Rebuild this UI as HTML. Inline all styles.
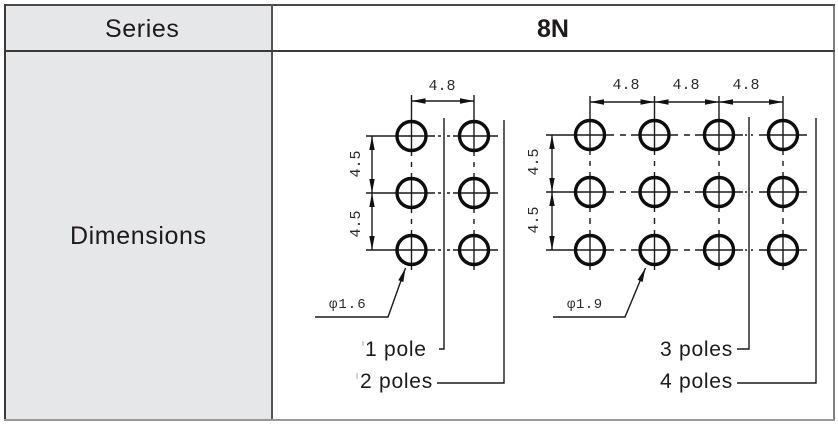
<!DOCTYPE html>
<html><head><meta charset="utf-8"><style>
html,body{margin:0;padding:0;background:#fff;}
svg{display:block;}
</style></head><body>
<svg width="838" height="424" viewBox="0 0 838 424" xmlns="http://www.w3.org/2000/svg">
<defs>
<marker id="a" markerUnits="userSpaceOnUse" markerWidth="15" markerHeight="7" refX="14" refY="3.5" orient="auto-start-reverse"><path d="M0,0.8 L14,3.5 L0,6.2 Z" fill="#111"/></marker>
</defs>
<rect x="0" y="0" width="838" height="424" fill="#fff"/>
<rect x="5" y="5" width="267" height="415" fill="#e6e7e8"/>
<!-- table borders -->
<line x1="4" y1="5" x2="835" y2="5" stroke="#4a4a4a" stroke-width="2"/>
<line x1="5" y1="4" x2="5" y2="421" stroke="#3a3a3a" stroke-width="2"/>
<line x1="272" y1="4" x2="272" y2="420" stroke="#555" stroke-width="2"/>
<line x1="4" y1="51" x2="835" y2="51" stroke="#3a3a3a" stroke-width="2"/>
<line x1="834" y1="4" x2="834" y2="421" stroke="#555" stroke-width="1.5"/>
<line x1="4" y1="420" x2="835" y2="420" stroke="#999" stroke-width="2"/>

<g font-family="Liberation Sans, Arial, sans-serif" fill="#1d1a1b">
<text x="105" y="37" font-size="25" letter-spacing="0.6">Series</text>
<text x="537" y="37" font-size="25" font-weight="bold">8N</text>
<text x="70" y="244" font-size="25" letter-spacing="0.6">Dimensions</text>
<text x="365" y="356" font-size="21" letter-spacing="0.75">1 pole</text>
<text x="360" y="388" font-size="21" letter-spacing="0.75">2 poles</text>
<text x="660" y="356" font-size="21" letter-spacing="0.75">3 poles</text>
<text x="660" y="388" font-size="21" letter-spacing="0.75">4 poles</text>
</g>
<line x1="363" y1="341" x2="363" y2="346" stroke="#aaa" stroke-width="1"/>
<line x1="357" y1="373" x2="357" y2="379" stroke="#aaa" stroke-width="1"/>

<!-- drawing labels -->
<g font-family="Liberation Mono, DejaVu Sans Mono, monospace" font-size="15" fill="#2a2a2a">
<text x="442" y="90" text-anchor="middle">4.8</text>
<text x="626" y="89" text-anchor="middle">4.8</text>
<text x="686" y="89" text-anchor="middle">4.8</text>
<text x="746" y="89" text-anchor="middle">4.8</text>
<text x="360" y="164" text-anchor="middle" transform="rotate(-90 360 164)">4.5</text>
<text x="360" y="224" text-anchor="middle" transform="rotate(-90 360 224)">4.5</text>
<text x="538" y="162" text-anchor="middle" transform="rotate(-90 538 162)">4.5</text>
<text x="538" y="220" text-anchor="middle" transform="rotate(-90 538 220)">4.5</text>
<text x="329" y="308" font-size="14" letter-spacing="1">φ1.6</text>
<text x="567" y="308" font-size="14" letter-spacing="0.5">φ1.9</text>
</g>

<!-- thin lines -->
<g stroke="#1a1a1a" stroke-width="1.4" fill="none">
<!-- LEFT diagram verticals -->
<path d="M411.5,95 V156 M411.5,162 V167 M411.5,173 V213 M411.5,219 V224 M411.5,230 V270"/>
<path d="M474,95 V156 M474,162 V167 M474,173 V213 M474,219 V224 M474,230 V270"/>
<!-- LEFT rows -->
<path d="M366,136 H435 M438,136 H441 M447,136 H450 M453,136 H498"/>
<path d="M366,193 H435 M438,193 H441 M447,193 H450 M453,193 H498"/>
<path d="M366,250 H435 M438,250 H441 M447,250 H450 M453,250 H498"/>
<!-- LEFT leaders -->
<path d="M444,118 V349 H439"/>
<path d="M504,120 V383 H437"/>
<!-- LEFT dims -->
<line x1="411.5" y1="101" x2="474" y2="101" marker-start="url(#a)" marker-end="url(#a)"/>
<line x1="372" y1="136" x2="372" y2="193" marker-start="url(#a)" marker-end="url(#a)"/>
<line x1="372" y1="193" x2="372" y2="250" marker-start="url(#a)" marker-end="url(#a)"/>
<path d="M315,317 H388 L405.5,268" marker-end="url(#a)"/>

<!-- RIGHT diagram verticals -->
<path d="M590,96 V155 M590,161 V166 M590,172 V212 M590,218 V224 M590,230 V270"/>
<path d="M654.5,96 V155 M654.5,161 V166 M654.5,172 V212 M654.5,218 V224 M654.5,230 V270"/>
<path d="M719,96 V155 M719,161 V166 M719,172 V212 M719,218 V224 M719,230 V270"/>
<path d="M783,96 V155 M783,161 V166 M783,172 V212 M783,218 V224 M783,230 V270"/>
<!-- RIGHT rows -->
<path d="M546,135 H614 M620,135 H626 M631,135 H678 M684,135 H690 M695,135 H743 M745,135 H747 M751,135 H753 M759,135 H807"/>
<path d="M546,192 H614 M620,192 H626 M631,192 H678 M684,192 H690 M695,192 H743 M745,192 H747 M751,192 H753 M759,192 H807"/>
<path d="M546,250 H614 M620,250 H626 M631,250 H678 M684,250 H690 M695,250 H743 M745,250 H747 M751,250 H753 M759,250 H807"/>
<!-- RIGHT leaders -->
<path d="M749,117 V349 H737"/>
<path d="M816,118 V383 H737"/>
<!-- RIGHT dims -->
<line x1="590" y1="102" x2="654.5" y2="102" marker-start="url(#a)" marker-end="url(#a)"/>
<line x1="654.5" y1="102" x2="719" y2="102" marker-start="url(#a)" marker-end="url(#a)"/>
<line x1="719" y1="102" x2="783" y2="102" marker-start="url(#a)" marker-end="url(#a)"/>
<line x1="552" y1="135" x2="552" y2="192" marker-start="url(#a)" marker-end="url(#a)"/>
<line x1="552" y1="192" x2="552" y2="250" marker-start="url(#a)" marker-end="url(#a)"/>
<path d="M553,317 H625 L645.5,268" marker-end="url(#a)"/>
</g>

<!-- circles -->
<g stroke="#0d0d0d" stroke-width="3.4" fill="none">
<circle cx="411.5" cy="136" r="14.5"/><circle cx="474" cy="136" r="14.5"/>
<circle cx="411.5" cy="193" r="14.5"/><circle cx="474" cy="193" r="14.5"/>
<circle cx="411.5" cy="250" r="14.5"/><circle cx="474" cy="250" r="14.5"/>

<circle cx="590" cy="135" r="14.5"/><circle cx="654.5" cy="135" r="14.5"/><circle cx="719" cy="135" r="14.5"/><circle cx="783" cy="135" r="14.5"/>
<circle cx="590" cy="192" r="14.5"/><circle cx="654.5" cy="192" r="14.5"/><circle cx="719" cy="192" r="14.5"/><circle cx="783" cy="192" r="14.5"/>
<circle cx="590" cy="250" r="14.5"/><circle cx="654.5" cy="250" r="14.5"/><circle cx="719" cy="250" r="14.5"/><circle cx="783" cy="250" r="14.5"/>
</g>
</svg>
</body></html>
